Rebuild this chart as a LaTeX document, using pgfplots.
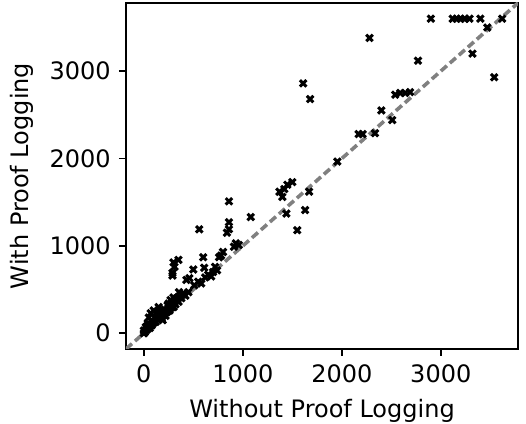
\documentclass[border=0pt]{standalone}
\usepackage{pgfplots}
\pgfplotsset{compat=1.18}
\usepackage{fontspec}
\setmainfont{DejaVu Sans}
\begin{document}
\fontsize{12pt}{14pt}\selectfont
\begin{tikzpicture}
\begin{axis}[
name=ax,
scale only axis,
width=196pt, height=173pt,
xmin=-180, xmax=3780,
ymin=-180, ymax=3780,
xtick={0,1000,2000,3000},
ytick={0,1000,2000,3000},
/pgf/number format/assume math mode=true,
/pgf/number format/1000 sep={},
tick align=outside,
major tick length=3.5pt,
tick style={line width=0.8pt, black},
axis line style={line width=1pt},
xtick pos=bottom, ytick pos=left,
xlabel={Without Proof Logging},
ylabel={With Proof Logging},
clip=true,
]
\addplot[gray, line width=1.8pt, dash pattern=on 4pt off 2pt] coordinates {(-180,-180) (3780,3780)};
\addplot[only marks, mark=x, mark size=2.3pt, line width=1.5pt, black] coordinates {
(2900,3600) (3120,3600) (3160,3600) (3200,3600) (3240,3600) (3290,3600) (3400,3600) (3620,3600)
(3470,3500) (3320,3200) (2770,3120) (3540,2930) (2280,3380)
(2540,2730) (2590,2750) (2640,2750) (2690,2760)
(2400,2550) (2510,2440) (2170,2280) (2210,2280) (2335,2290) (1955,1965)
(1610,2860) (1680,2680) (1500,1730) (1450,1700) (1370,1620) (1400,1560) (1420,1650)
(1440,1370) (1630,1410) (1550,1180) (1670,1620)
(860,1510) (1080,1330) (560,1190) (860,1270) (860,1190) (840,1150) (930,1030) (910,990) (960,1010)
(800,930) (780,890) (760,870) (600,870) (350,840) (300,810) (310,760) (290,690) (290,660)
(500,730) (460,630) (610,750) (650,670) (620,640) (550,590) (510,550) (580,570) (430,610)
(700,700) (740,720) (680,650) (720,760)
(355,470) (400,460) (300,410) (270,380) (240,320) (250,340) (150,300) (120,230) (100,260)
(200,260) (190,150) (70,230) (50,180) (90,115) (40,115) (20,70) (0,30) (0,0) (10,10) (30,40)
(60,60) (80,90) (120,130) (150,160) (180,190) (200,210) (230,240) (260,280) (290,300) (320,330)
(350,360) (380,400) (420,430) (450,470) (100,120) (130,170) (160,200) (60,90) (40,60) (170,230)
(210,270) (140,210) (110,180) (80,150) (50,100) (30,80) (20,40) (240,250) (270,290) (310,350)
(330,400) (220,200) (180,170) (300,300) (260,260)
};
\end{axis}
\pgfresetboundingbox
\path ([shift={(-63pt,-37.5pt)}]ax.south west) rectangle ([shift={(4pt,1.5pt)}]ax.north east);
\end{tikzpicture}
\end{document}
